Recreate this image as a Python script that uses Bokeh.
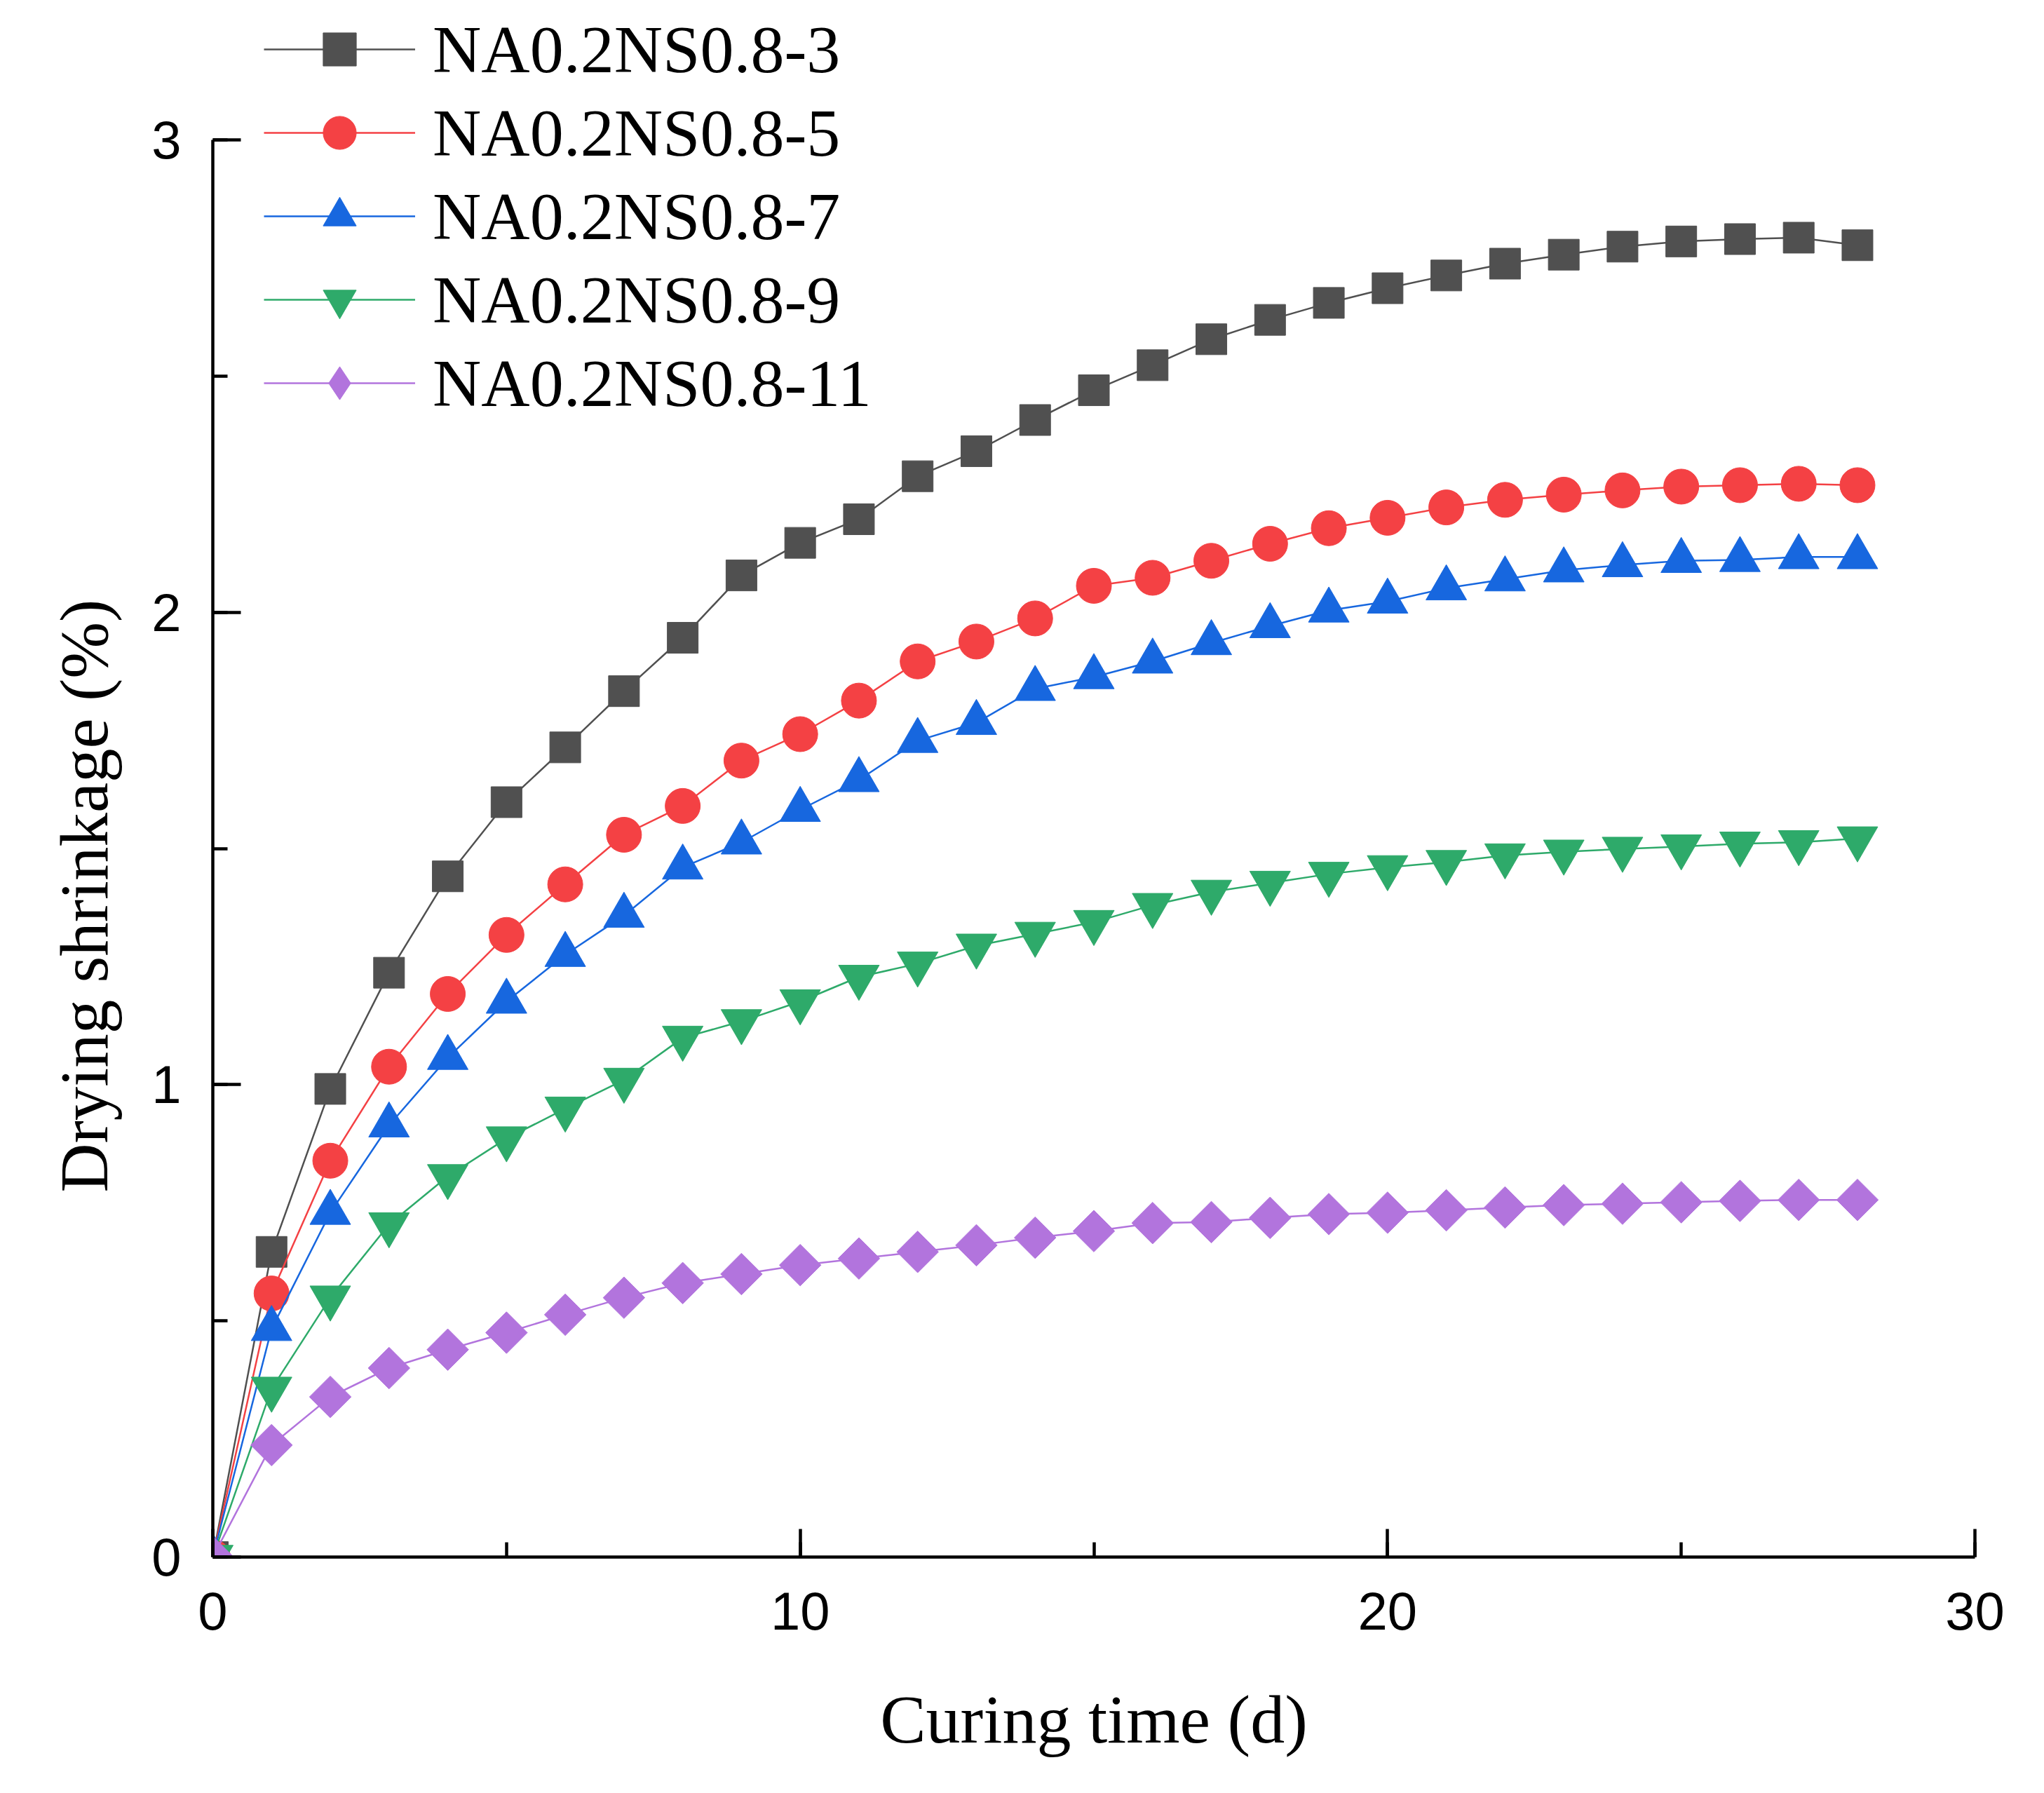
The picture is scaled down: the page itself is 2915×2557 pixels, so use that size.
import math
from bokeh.plotting import figure
from bokeh.models import Legend, LegendItem, SingleIntervalTicker, Title, ColumnDataSource
from bokeh.embed import file_html
from bokeh.resources import INLINE

days = list(range(0, 29))

na_3 = [0.0, 0.646, 0.991, 1.237, 1.441, 1.598, 1.714, 1.833, 1.946, 2.078, 2.147,
        2.197, 2.288, 2.341, 2.407, 2.470, 2.523, 2.578, 2.619, 2.655, 2.686,
        2.713, 2.738, 2.757, 2.774, 2.785, 2.790, 2.793, 2.777]
na_5 = [0.0, 0.558, 0.839, 1.038, 1.192, 1.317, 1.424, 1.529, 1.590, 1.686, 1.742,
        1.813, 1.896, 1.938, 1.987, 2.056, 2.073, 2.109, 2.145, 2.178, 2.200,
        2.222, 2.238, 2.249, 2.258, 2.266, 2.269, 2.272, 2.269]
na_7 = [0.0, 0.483, 0.729, 0.914, 1.057, 1.176, 1.275, 1.358, 1.460, 1.513, 1.582,
        1.645, 1.728, 1.766, 1.838, 1.863, 1.896, 1.935, 1.971, 2.004, 2.023,
        2.051, 2.070, 2.089, 2.100, 2.109, 2.111, 2.117, 2.117]
na_9 = [0.0, 0.356, 0.549, 0.704, 0.806, 0.886, 0.949, 1.010, 1.099, 1.134, 1.176,
        1.228, 1.256, 1.294, 1.319, 1.344, 1.380, 1.408, 1.427, 1.446, 1.460,
        1.471, 1.485, 1.493, 1.499, 1.504, 1.510, 1.513, 1.521]
na_11 = [0.0, 0.237, 0.339, 0.400, 0.439, 0.475, 0.513, 0.549, 0.580, 0.599, 0.618,
         0.632, 0.646, 0.660, 0.676, 0.690, 0.707, 0.709, 0.718, 0.726, 0.729,
         0.734, 0.740, 0.745, 0.748, 0.751, 0.754, 0.756, 0.756]

series_names = ["NA0.2NS0.8-3", "NA0.2NS0.8-5", "NA0.2NS0.8-7", "NA0.2NS0.8-9", "NA0.2NS0.8-11"]
series_values = [na_3, na_5, na_7, na_9, na_11]
colors = ["#505050", "#F44144", "#1767DF", "#2EAA6A", "#B274DD"]
markers = ["square", "circle", "triangle", "inverted_triangle", "square"]
legend_markers = ["square", "circle", "triangle", "inverted_triangle", "diamond"]
sizes = [44, 50, 58, 58, 42]
angles = [0, 0, 0, 0, math.pi / 4]

x_max = 30
y_max = 3
x_ticks_major = 10
y_ticks_major = 1

SERIF = "Liberation Serif"
SANS = "Liberation Sans"

W, H = 2899, 2541
left, right, bottom = 303, 83, 321
top_gap = 199                      # pixels between canvas top and the y = 3 tick
frame_h = H - bottom
y_top = y_max * frame_h / (frame_h - top_gap)   # frame extends above the axis end

p = figure(width=W, height=H, x_range=(0, x_max), y_range=(0, y_top),
           output_backend="svg", toolbar_location=None,
           min_border_left=left, min_border_right=right,
           min_border_top=0, min_border_bottom=bottom)
p.grid.visible = False
p.outline_line_color = None
p.background_fill_color = "white"
p.border_fill_color = "white"

items = []
for name, vals, col, mk, lmk, sz, ang in zip(series_names, series_values, colors,
                                             markers, legend_markers, sizes, angles):
    src = ColumnDataSource(dict(x=days, y=vals))
    r1 = p.line("x", "y", source=src, line_color=col, line_width=2.5)
    key = None
    if lmk != mk:
        # legend key: a diamond drawn beneath the plotted 45-degree squares
        # (a legend would draw those squares upright); it is fully covered by them
        key = p.scatter("x", "y", source=src, marker=lmk, size=sz * 1.35,
                        fill_color=col, line_color=col, line_width=1)
    r2 = p.scatter("x", "y", source=src, marker=mk, size=sz, angle=ang,
                   fill_color=col, line_color=col, line_width=1)
    items.append(LegendItem(label=name, renderers=[r1, key if key is not None else r2]))

for ax, interval, bnds in ((p.xaxis[0], x_ticks_major, (0, x_max)),
                           (p.yaxis[0], y_ticks_major, (0, y_max))):
    ax.ticker = SingleIntervalTicker(interval=interval, num_minor_ticks=2)
    ax.bounds = bnds
    ax.axis_line_width = 4.5
    ax.axis_line_color = "black"
    ax.major_tick_line_width = 4.5
    ax.minor_tick_line_width = 4.5
    ax.major_tick_line_color = "black"
    ax.minor_tick_line_color = "black"
    ax.major_tick_in = 40
    ax.major_tick_out = 0
    ax.minor_tick_in = 21
    ax.minor_tick_out = 0
    ax.major_label_text_font = SANS
    ax.major_label_text_font_size = "76px"
    ax.major_label_text_color = "black"

p.xaxis.major_label_standoff = 50
p.yaxis.major_label_standoff = 45
p.xaxis.axis_label = "Curing time (d)"
p.xaxis.axis_label_text_font = SERIF
p.xaxis.axis_label_text_font_size = "98px"
p.xaxis.axis_label_text_font_style = "normal"
p.xaxis.axis_label_text_color = "black"
p.xaxis.axis_label_standoff = 71

# y-axis title: placed from the bottom of the frame, as in the reference
ytitle = Title(text="Drying shrinkage (%)", align="left", offset=520,
               vertical_align="bottom", standoff=80,
               text_font=SERIF, text_font_size="97px", text_font_style="normal",
               text_color="black")
p.add_layout(ytitle, "left")

legend = Legend(items=items, location=(73, 1615),
                glyph_width=216, glyph_height=118, label_height=118,
                label_width=10, spacing=1, padding=0, margin=0,
                label_standoff=25,
                label_text_font=SERIF, label_text_font_size="96px",
                label_text_color="black",
                background_fill_alpha=0, border_line_color=None)
p.add_layout(legend)

open("out.html", "w").write(file_html(p, INLINE))
